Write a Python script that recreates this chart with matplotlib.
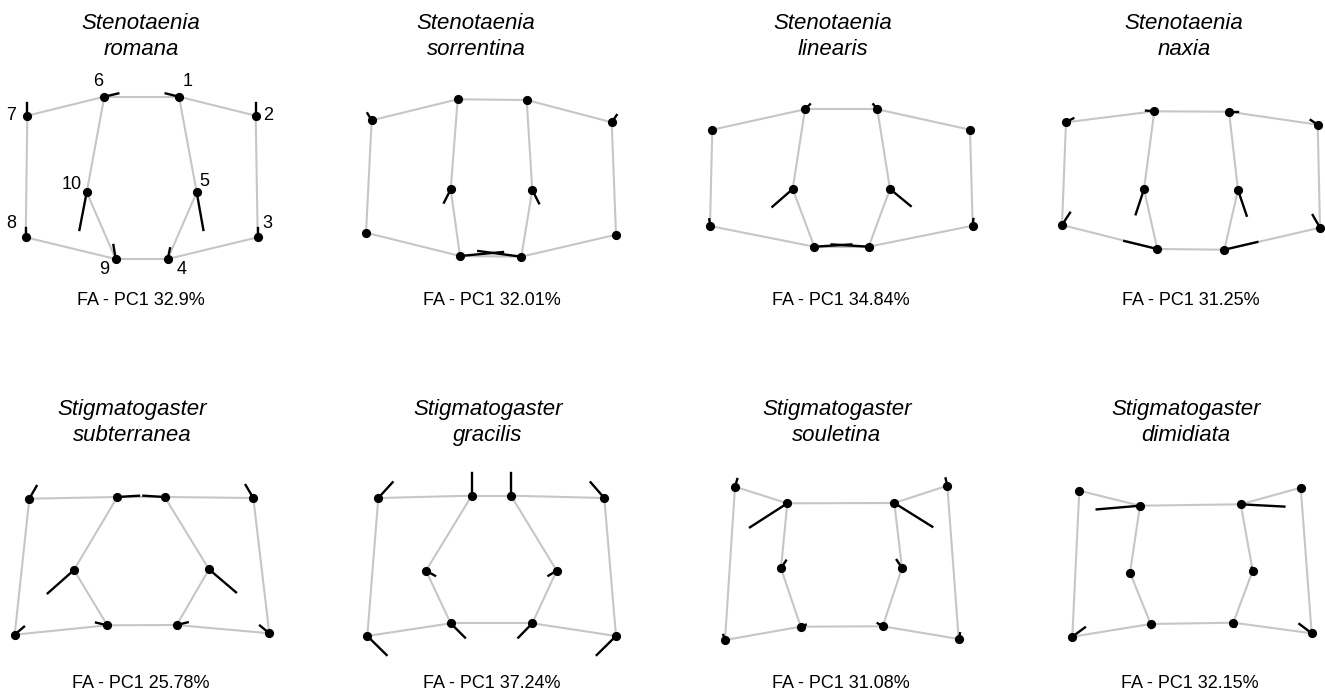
import matplotlib
matplotlib.use("Agg")
import matplotlib.pyplot as plt
import numpy as np

plt.rcParams['font.family'] = ['Liberation Sans', 'DejaVu Sans']

W, H = 1325, 691

genus = ["Stenotaenia", "Stenotaenia", "Stenotaenia", "Stenotaenia",
         "Stigmatogaster", "Stigmatogaster", "Stigmatogaster", "Stigmatogaster"]
species = ["romana", "sorrentina", "linearis", "naxia",
           "subterranea", "gracilis", "souletina", "dimidiata"]
pc1_pct = ["32.9", "32.01", "34.84", "31.25", "25.78", "37.24", "31.08", "32.15"]

# landmark configurations (landmarks 1..10), local panel coords, y up
lm_x = {
    "romana":      [179, 255.7, 257.7, 167.7, 196.7, 104.3, 27.3, 25.7, 115.7, 86.7],
    "sorrentina":  [196.7, 281.7, 286, 191.3, 202.3, 127.7, 41.7, 36, 130, 120.7],
    "linearis":    [217.3, 310, 312.7, 208.7, 230, 145, 52.3, 50, 154.3, 132.7],
    "naxia":       [239, 327.7, 330, 234.3, 248, 164.3, 76, 72, 167.3, 154],
    "subterranea": [164.7, 253.3, 269.3, 176.7, 209, 117.3, 29.3, 14.7, 107.3, 74],
    "gracilis":    [181, 274.3, 286, 202.3, 226.7, 141.7, 48.3, 37.3, 120.7, 96],
    "souletina":   [234.3, 287.3, 298.7, 222.7, 242, 127.3, 75, 65, 140.7, 121],
    "dimidiata":   [250.7, 310.7, 321.7, 243.3, 262.7, 150, 89.3, 82.3, 160.7, 140],
}
lm_y = {
    "romana":      [183.3, 164.3, 42.7, 21, 87.7, 183.3, 164.3, 42.7, 21, 87.7],
    "sorrentina":  [180, 157.7, 45.3, 23.3, 90, 180.7, 159.7, 47.3, 24, 90.7],
    "linearis":    [170.7, 150.3, 54.3, 33.3, 91, 170.7, 150.3, 54, 33.3, 91],
    "naxia":       [168.3, 155.3, 52.3, 30.3, 90, 168.7, 157.7, 55, 31, 90.7],
    "subterranea": [183, 182, 46.7, 55, 110.7, 183, 181.3, 45.3, 54.7, 110],
    "gracilis":    [184.3, 182, 44, 56.7, 109.3, 184.3, 182, 44, 56.7, 109.3],
    "souletina":   [177, 194.3, 41, 53.7, 112, 176.7, 193.3, 40, 53.3, 111.7],
    "dimidiata":   [175.7, 192.3, 46.7, 57.3, 109.3, 174.3, 189.3, 43.3, 56, 107.3],
}
# FA - PC1 shape-change vectors at each landmark
vec_dx = {
    "romana":      [-13.3, 0, 0, 2.3, 6.7, 14, 0, 0, -2.3, -7.3],
    "sorrentina":  [0, 5, 0, -43, 6.7, 0, -4.3, 0, 43, -6.7],
    "linearis":    [-4, 0, 0.7, -37, 20.7, 5, 0, -0.7, 37, -20.3],
    "naxia":       [9.3, -7, -7.3, 33, 8.7, -8.3, 7.3, 8, -33, -8.3],
    "subterranea": [-21.3, -7.7, -9.3, 11, 27, 21.7, 7.3, 9.3, -11.3, -26.3],
    "gracilis":    [0, -13.7, -19.3, -14, -8.3, 0, 14.3, 19.3, 14.3, 9],
    "souletina":   [38, -1.7, 1.3, -5, -5.3, -37.3, 2.3, -1.7, 5, 5],
    "dimidiata":   [43.7, 0, -12.3, 2, -1, -43.3, 0, 12.7, 0, 1.7],
}
vec_dy = {
    "romana":      [3.3, 12.3, 9, 10.7, -37.7, 3.3, 12.3, 9, 14, -37.7],
    "sorrentina":  [0, 7.3, 0, 5.7, -13.3, 0, 7, 0, 4, -13.3],
    "linearis":    [5, 0, 6.7, 2.3, -17, 5, 0, 6.7, 2.3, -17.7],
    "naxia":       [0, 4.7, 12.7, 7.7, -25.7, 0.7, 4, 12.3, 8, -25],
    "subterranea": [1.3, 13, 7.7, 2.7, -23, 1.3, 12.7, 8, 2.7, -23.3],
    "gracilis":    [22.3, 15.7, -19, -14.3, -5, 22.3, 15.7, -19, -14.3, -5],
    "souletina":   [-23.7, 7.3, 5.7, 3, 8, -24, 7.7, 5, 2, 7.7],
    "dimidiata":   [-2.3, 0, 9.3, -4, 3, -3.7, 0, 9.3, -4, -4],
}
links = [(1, 2), (2, 3), (3, 4), (4, 5), (5, 1), (1, 6), (6, 7), (7, 8),
         (8, 9), (9, 10), (10, 6), (9, 4)]
lm_labels = [str(i) for i in range(1, 11)]
label_off = [(9, 15), (12, 0), (10, 14), (14, -10), (8, 11),
             (-6, 15), (-16, 0), (-14, 14), (-12, -10), (-15, 8)]

# layout (figure pixels)
panel_w, panel_h = 330, 220
panel_x0 = [0, 330, 660, 990]
panel_y0 = [60, 460]
title_cx = [[141, 476, 833, 1184], [132, 488, 837, 1186]]
title_base = [(29, 55), (415, 441)]
cap_cx = [[141, 492, 841, 1191], [141, 492, 841, 1190]]
cap_base = [305, 688]

fig = plt.figure(figsize=(W / 100, H / 100), dpi=100)

for k, sp in enumerate(species):
    r, c = divmod(k, 4)
    x0, y0 = panel_x0[c], panel_y0[r]
    ax = fig.add_axes([x0 / W, 1 - (y0 + panel_h) / H, panel_w / W, panel_h / H])
    ax.set_xlim(0, panel_w)
    ax.set_ylim(0, panel_h)
    ax.axis('off')
    xs = np.array(lm_x[sp]); ys = np.array(lm_y[sp])
    dx = np.array(vec_dx[sp]); dy = np.array(vec_dy[sp])
    for a, b in links:
        ax.plot([xs[a - 1], xs[b - 1]], [ys[a - 1], ys[b - 1]],
                color='#c6c6c6', lw=1.5, solid_capstyle='round', zorder=1, clip_on=False)
    for i in range(10):
        ax.plot([xs[i], xs[i] + dx[i]], [ys[i], ys[i] + dy[i]],
                color='black', lw=1.7, zorder=2, clip_on=False)
    ax.plot(xs, ys, 'o', color='black', ms=5.6, zorder=3, clip_on=False)
    if k == 0:
        for i in range(10):
            ax.text(xs[i] + label_off[i][0], ys[i] + label_off[i][1], lm_labels[i],
                    fontsize=13, ha='center', va='center')

    fig.text(title_cx[r][c] / W, 1 - title_base[r][0] / H, genus[k],
             fontsize=16, style='italic', ha='center', va='baseline')
    fig.text(title_cx[r][c] / W, 1 - title_base[r][1] / H, species[k],
             fontsize=16, style='italic', ha='center', va='baseline')
    fig.text(cap_cx[r][c] / W, 1 - cap_base[r] / H, f"FA - PC1 {pc1_pct[k]}%",
             fontsize=13, ha='center', va='baseline')

fig.savefig("out.png", dpi=100)
